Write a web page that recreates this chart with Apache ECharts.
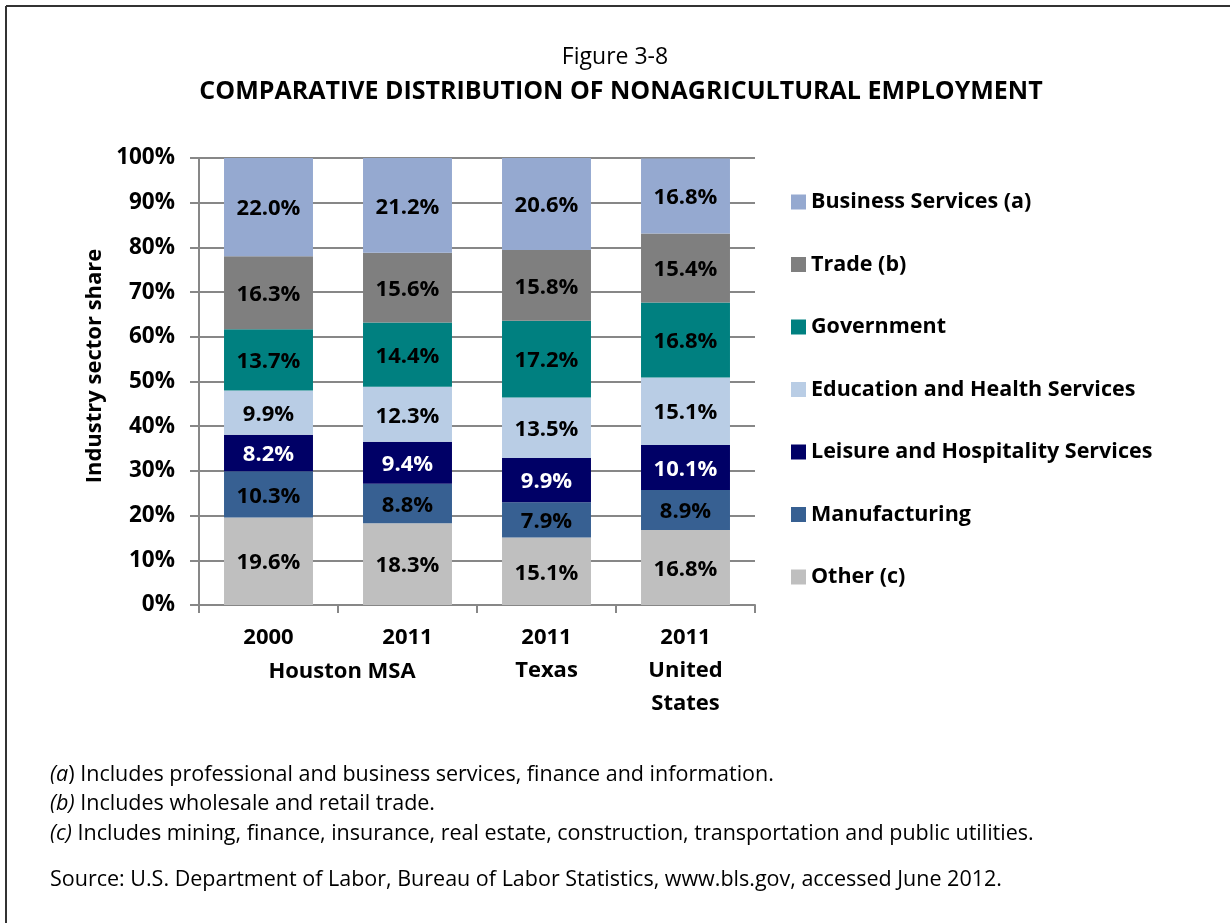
<!DOCTYPE html>
<html>
<head>
<meta charset="utf-8">
<script src="https://cdn.jsdelivr.net/npm/echarts@6/dist/echarts.min.js"></script>
<style>
html,body{margin:0;padding:0;background:#fff;}
#chart{width:1230px;height:923px;}
</style>
</head>
<body>
<div id="chart"></div>
<script>
const categories = ['2000', '2011', '2011\nTexas', '2011\nUnited\nStates'];
const yTicks = [0, 10, 20, 30, 40, 50, 60, 70, 80, 90, 100];
const other = [19.6, 18.3, 15.1, 16.8];
const manufacturing = [10.3, 8.8, 7.9, 8.9];
const leisure = [8.2, 9.4, 9.9, 10.1];
const education = [9.9, 12.3, 13.5, 15.1];
const government = [13.7, 14.4, 17.2, 16.8];
const trade = [16.3, 15.6, 15.8, 15.4];
const business = [22.0, 21.2, 20.6, 16.8];

const FONT = '"Open Sans", Lato, sans-serif';
const seriesDefs = [
  ['Other (c)', other, '#BFBFBF', '#000'],
  ['Manufacturing', manufacturing, '#376092', '#000'],
  ['Leisure and Hospitality Services', leisure, '#000066', '#fff'],
  ['Education and Health Services', education, '#B9CDE5', '#000'],
  ['Government', government, '#008080', '#000'],
  ['Trade (b)', trade, '#7F7F7F', '#000'],
  ['Business Services (a)', business, '#95A9D0', '#000']
];

const NOTE_SIZE = 21.5;
const noteRich = { i: { fontStyle: 'italic', fontFamily: FONT, fontSize: NOTE_SIZE } };

const chart = echarts.init(document.getElementById('chart'));
chart.setOption({
  animation: false,
  backgroundColor: '#fff',
  textStyle: { fontFamily: FONT },
  grid: { left: 199, right: 475, top: 158, bottom: 318, containLabel: false },
  legend: {
    orient: 'vertical',
    left: 786,
    top: 185,
    icon: 'rect',
    itemWidth: 15,
    itemHeight: 15,
    itemGap: 38.5,
    selectedMode: false,
    data: seriesDefs.map(s => s[0]).reverse(),
    textStyle: { fontFamily: FONT, fontWeight: 'bold', fontSize: 21.5, color: '#000', lineHeight: 24 }
  },
  xAxis: {
    type: 'category',
    data: categories,
    axisLine: { show: true, lineStyle: { color: '#878787', width: 2 } },
    axisTick: { show: true, length: 8, lineStyle: { color: '#878787', width: 2 } },
    axisLabel: { fontFamily: FONT, fontWeight: 'bold', fontSize: 22, color: '#000', lineHeight: 33, margin: 16, interval: 0 }
  },
  yAxis: {
    type: 'value',
    min: 0, max: 100, interval: 10,
    axisLine: { show: true, lineStyle: { color: '#878787', width: 2 } },
    axisTick: { show: true, length: 9, lineStyle: { color: '#878787', width: 2 } },
    splitLine: { show: true, lineStyle: { color: '#878787', width: 2 } },
    axisLabel: {
      fontFamily: FONT, fontWeight: 'bold', fontSize: 22.5, color: '#000', margin: 24,
      formatter: v => yTicks.includes(v) ? v + '%' : ''
    }
  },
  series: seriesDefs.map(([name, data, color, lc]) => ({
    name, type: 'bar', stack: 'total', data,
    barWidth: '64%',
    itemStyle: { color },
    label: {
      show: true, position: 'inside', color: lc, offset: [0, 2],
      fontFamily: FONT, fontWeight: 'bold', fontSize: 22,
      formatter: p => p.value.toFixed(1) + '%'
    }
  })),
  graphic: [
    { type: 'line', shape: { x1: 6, y1: 6, x2: 1230, y2: 6 }, style: { stroke: '#333', lineWidth: 2 } },
    { type: 'line', shape: { x1: 6, y1: 6, x2: 6, y2: 923 }, style: { stroke: '#333', lineWidth: 2 } },
    { type: 'text', x: 615, y: 57, style: { text: 'Figure 3-8', fontFamily: FONT, fontSize: 23, fill: '#000', align: 'center', verticalAlign: 'middle' } },
    { type: 'text', x: 621, y: 92, style: { text: 'COMPARATIVE DISTRIBUTION OF NONAGRICULTURAL EMPLOYMENT', fontFamily: FONT, fontWeight: 'bold', fontSize: 25, fill: '#000', align: 'center', verticalAlign: 'middle' } },
    { type: 'text', x: 95, y: 366, rotation: Math.PI / 2, style: { text: 'Industry sector share', fontFamily: FONT, fontWeight: 'bold', fontSize: 22, fill: '#000', align: 'center', verticalAlign: 'middle' } },
    { type: 'text', x: 342, y: 672, style: { text: 'Houston MSA', fontFamily: FONT, fontWeight: 'bold', fontSize: 22, fill: '#000', align: 'center', verticalAlign: 'middle' } },
    { type: 'text', x: 50, y: 775, style: { text: '{i|(a}) Includes professional and business services, finance and information.', fontFamily: FONT, fontSize: NOTE_SIZE, fill: '#000', verticalAlign: 'middle', rich: noteRich } },
    { type: 'text', x: 50, y: 804, style: { text: '{i|(b)} Includes wholesale and retail trade.', fontFamily: FONT, fontSize: NOTE_SIZE, fill: '#000', verticalAlign: 'middle', rich: noteRich } },
    { type: 'text', x: 50, y: 834, style: { text: '{i|(c)} Includes mining, finance, insurance, real estate, construction, transportation and public utilities.', fontFamily: FONT, fontSize: NOTE_SIZE, fill: '#000', verticalAlign: 'middle', rich: noteRich } },
    { type: 'text', x: 50, y: 880, style: { text: 'Source: U.S. Department of Labor, Bureau of Labor Statistics, www.bls.gov, accessed June 2012.', fontFamily: FONT, fontSize: NOTE_SIZE, fill: '#000', verticalAlign: 'middle' } }
  ]
});
</script>
</body>
</html>
